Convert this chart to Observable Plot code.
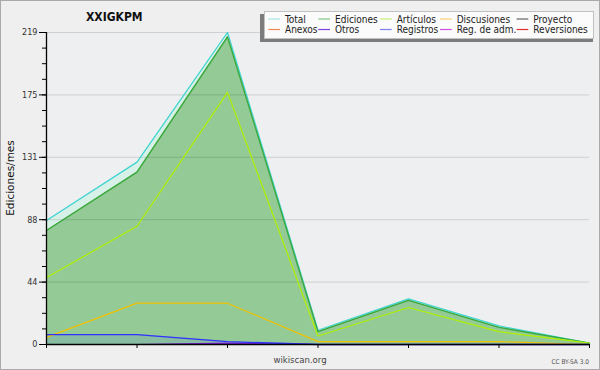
<!DOCTYPE html>
<html>
<head>
<meta charset="utf-8">
<script src="https://cdn.jsdelivr.net/npm/d3@7"></script>
<script src="https://cdn.jsdelivr.net/npm/@observablehq/plot@0.6"></script>
<style>
  html, body { margin: 0; padding: 0; background: #efefef; }
  #chart svg { display: block; }
</style>
</head>
<body>
<div id="chart"></div>
<script>
// ---- data ----
const periods = [0, 1, 2, 3, 4, 5, 6];
const total       = [87, 128, 219, 10, 32, 13, 1];
const ediciones   = [80, 121, 216, 9, 31, 12, 1];
const articulos   = [47, 83, 177, 6, 26, 9, 1];
const discusiones = [5, 29, 29, 2, 2, 2, 0];
const registros   = [7, 7, 2, 0, 0, 0, 0];
const otros       = [0, 0, 1, 0, 0, 0, 0];

const yMax = 219;
const yMinorTicks = d3.range(0, 21).map(i => i * yMax / 20);
const yMajorTicks = yMinorTicks.filter((d, i) => i % 4 === 0);

const legendRow1 = ["Total", "Ediciones", "Artículos", "Discusiones", "Proyecto"];
const legendRow2 = ["Anexos", "Otros", "Registros", "Reg. de adm.", "Reversiones"];
const legendColors1 = ["#a6e6e0", "#80c880", "#c8f070", "#f8d070", "#666666"];
const legendColors2 = ["#f08850", "#8040e0", "#8080f0", "#d050e0", "#e03030"];

const titleText = "XXIGKPM";
const yLabel = "Ediciones/mes";
const sourceText = "wikiscan.org";
const licenseText = "CC BY-SA 3.0";

// ---- table ----
const rows = periods.map((p, i) => ({
  p, total: total[i], ediciones: ediciones[i], articulos: articulos[i],
  discusiones: discusiones[i], registros: registros[i], otros: otros[i]
}));

const chart = Plot.plot({
  width: 600,
  height: 370,
  marginLeft: 46,
  marginRight: 11,
  marginTop: 32,
  marginBottom: 26,
  style: { background: "#efefef", fontFamily: "DejaVu Sans Condensed", fontSize: "9px", color: "#000" },
  x: { domain: [0, 6], label: null },
  y: { domain: [0, yMax], label: null },
  marks: [
    Plot.frame({ fill: "#eeeff1", stroke: null }),
    Plot.areaY(rows, { x: "p", y: "total", fill: "#d8f1e8" }),
    Plot.areaY(rows, { x: "p", y: "ediciones", fill: "#93ca96" }),
    Plot.areaY(rows, { x: "p", y: "registros", fill: "#4060ff", fillOpacity: 0.12 }),
    Plot.gridY(yMajorTicks.filter(d => d > 0), { stroke: "#000", strokeOpacity: 0.13 }),
    Plot.lineY(rows, { x: "p", y: "total", stroke: "#40d4d0", strokeWidth: 1.3 }),
    Plot.lineY(rows, { x: "p", y: "ediciones", stroke: "#3aa83c", strokeWidth: 1.4 }),
    Plot.lineY(rows, { x: "p", y: "articulos", stroke: "#b0f000", strokeWidth: 1.2 }),
    Plot.lineY(rows, { x: "p", y: "discusiones", stroke: "#f2c200", strokeWidth: 1.2 }),
    Plot.lineY(rows, { x: "p", y: "otros", stroke: "#8020e0", strokeWidth: 1.2 }),
    Plot.lineY(rows, { x: "p", y: "registros", stroke: "#3030ff", strokeWidth: 1.3 }),
    Plot.axisY({ ticks: yMinorTicks, tickSize: 4, tickFormat: () => "", stroke: "#000" }),
    Plot.axisY({ ticks: yMajorTicks, tickSize: 7, tickPadding: 2, tickFormat: d => Math.round(d), fill: "#333", stroke: "#000", fontSize: 9 }),
    Plot.axisX({ ticks: periods, tickSize: 4, tickFormat: () => "", stroke: "#000" }),
    Plot.ruleX([0], { stroke: "#000", strokeWidth: 1.3 }),
    Plot.ruleY([0], { stroke: "#000", strokeWidth: 1.3 })
  ]
});

document.getElementById("chart").appendChild(chart);

// ---- extra text: title, labels, legend ----
const svg = d3.select(chart);
svg.append("rect").attr("x", 0.5).attr("y", 0.5).attr("width", 599).attr("height", 369)
  .attr("fill", "none").attr("stroke", "#aaaaaa").attr("stroke-width", 1);

svg.append("text").attr("x", 86).attr("y", 21).attr("text-anchor", "start").text(titleText)
  .attr("font-family", "DejaVu Sans Condensed").attr("font-weight", "bold")
  .attr("font-size", 12).attr("fill", "#111");

svg.append("text").attr("transform", "translate(13.5,178) rotate(-90)")
  .attr("text-anchor", "middle").text(yLabel)
  .attr("font-family", "DejaVu Sans").attr("font-size", 10.5).attr("fill", "#111");

svg.append("text").attr("x", 300).attr("y", 363).attr("text-anchor", "middle").text(sourceText)
  .attr("font-family", "DejaVu Sans Condensed").attr("font-size", 9.5).attr("fill", "#444");

svg.append("text").attr("x", 589).attr("y", 364).attr("text-anchor", "end").text(licenseText)
  .attr("font-family", "DejaVu Sans Condensed").attr("font-size", 6.5).attr("fill", "#555");

const lg = svg.append("g").attr("text-anchor", "start");
lg.append("rect").attr("x", 260).attr("y", 14).attr("width", 333).attr("height", 28).attr("fill", "#7c7c7c");
lg.append("rect").attr("x", 264.5).attr("y", 11.5).attr("width", 329).attr("height", 27)
  .attr("fill", "#fbfbfb").attr("stroke", "#c0c0c0");
const colX = [285, 335, 396.7, 456.7, 533.3];
[[legendRow1, legendColors1, 22.5, 19], [legendRow2, legendColors2, 33, 29.5]].forEach(([names, cols, by, ly]) => {
  names.forEach((n, i) => {
    lg.append("line").attr("x1", colX[i] - 16.7).attr("x2", colX[i] - 5)
      .attr("y1", ly).attr("y2", ly).attr("stroke", cols[i]).attr("stroke-width", 1.2);
    lg.append("text").attr("x", colX[i]).attr("y", by).attr("text-anchor", "start").text(n)
      .attr("font-family", "DejaVu Sans Condensed").attr("font-size", 10).attr("fill", "#222");
  });
});
</script>
</body>
</html>
